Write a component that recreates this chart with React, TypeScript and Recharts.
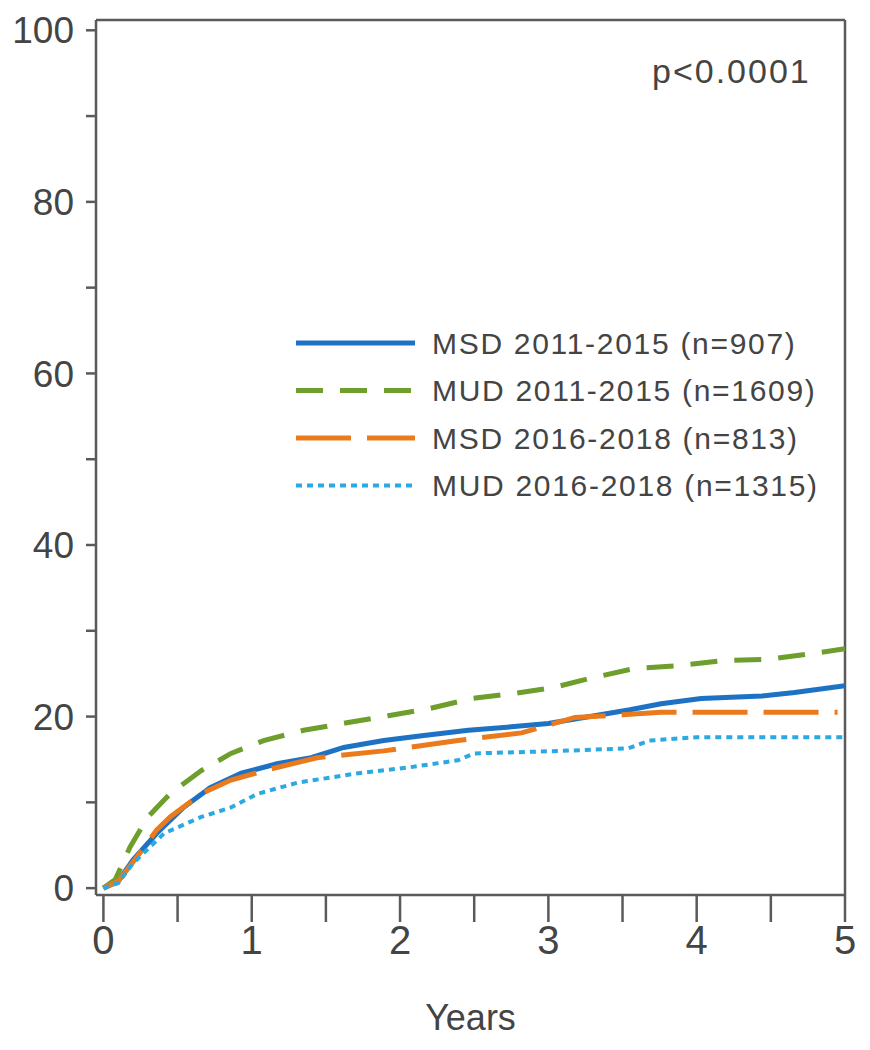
import React from "react";
import { LineChart, Line, XAxis, YAxis, ReferenceLine } from "recharts";

// cumulative incidence (%), by years after transplant
const msd1115Years = [0, 0.1, 0.2, 0.36, 0.54, 0.72, 0.93, 1.17, 1.4, 1.62, 1.89, 2.16, 2.46, 2.75, 3.0, 3.31, 3.55, 3.76, 4.03, 4.44, 4.66, 5.0];
const msd1115Values = [0, 0.8, 3.3, 6.4, 9.4, 11.7, 13.4, 14.5, 15.2, 16.4, 17.2, 17.8, 18.4, 18.8, 19.2, 20.1, 20.8, 21.5, 22.1, 22.4, 22.8, 23.6];

const mud1115Years = [0, 0.08, 0.18, 0.3, 0.45, 0.66, 0.86, 1.08, 1.35, 1.65, 1.92, 2.19, 2.48, 2.77, 3.04, 3.29, 3.58, 3.85, 4.17, 4.49, 4.76, 5.0];
const mud1115Values = [0, 1.0, 4.8, 8.3, 11, 13.7, 15.7, 17.2, 18.4, 19.3, 20.1, 20.9, 22.1, 22.7, 23.4, 24.5, 25.6, 25.9, 26.5, 26.7, 27.3, 27.9];

const msd1618Years = [0, 0.1, 0.22, 0.36, 0.45, 0.66, 0.86, 1.13, 1.44, 1.89, 2.39, 2.48, 2.82, 3.18, 3.5, 3.76, 4.2, 4.95];
const msd1618Values = [0, 0.8, 3.5, 6.8, 8.3, 11, 12.6, 13.9, 15.2, 16.0, 17.2, 17.4, 18.1, 19.9, 20.2, 20.5, 20.5, 20.5];

const mud1618Years = [0, 0.1, 0.2, 0.41, 0.66, 0.86, 1.04, 1.31, 1.72, 2.07, 2.39, 2.5, 3.09, 3.54, 3.68, 4.0, 5.0];
const mud1618Values = [0, 0.6, 2.9, 6.4, 8.3, 9.4, 11, 12.3, 13.4, 14.1, 14.9, 15.7, 16.0, 16.3, 17.2, 17.6, 17.6];

const xTicks = [0, 0.5, 1, 1.5, 2, 2.5, 3, 3.5, 4, 4.5, 5];
const yTicks = [0, 10, 20, 30, 40, 50, 60, 70, 80, 90, 100];

const toRows = (years: number[], values: number[]) =>
  years.map((t, i) => ({ t, v: values[i] }));

const series = [
  { name: "MSD 2011-2015 (n=907)", data: toRows(msd1115Years, msd1115Values), color: "#1d72c4", dash: undefined, width: 5 },
  { name: "MUD 2011-2015 (n=1609)", data: toRows(mud1115Years, mud1115Values), color: "#6e9e2c", dash: "27 17", width: 5 },
  { name: "MSD 2016-2018 (n=813)", data: toRows(msd1618Years, msd1618Values), color: "#ea7a1c", dash: "55 16", width: 5 },
  { name: "MUD 2016-2018 (n=1315)", data: toRows(mud1618Years, mud1618Values), color: "#2aa9e2", dash: "6 5", width: 4 },
];

const axisColor = "#5a5a5a";
const textColor = "#444";

// legend drawn over the plot, same place as in the figure
const LegendBox = () => (
  <svg width={570} height={200} style={{ position: "absolute", left: 280, top: 310 }}>
    {series.map((s, i) => {
      const y = 25 + i * 47.5;
      return (
        <g key={s.name}>
          <line
            x1={8}
            x2={127}
            y1={y}
            y2={y}
            stroke={s.color}
            strokeWidth={s.width}
            strokeDasharray={s.dash}
          />
          <text
            x={144}
            y={y}
            dy="0.36em"
            fontSize={30}
            letterSpacing={1.7}
            fill={textColor}
          >
            {s.name}
          </text>
        </g>
      );
    })}
  </svg>
);

export default function App() {
  return (
    <div
      style={{
        position: "relative",
        width: 862,
        height: 1034,
        fontFamily: "'Liberation Sans', Arial, sans-serif",
      }}
    >
      <LineChart
        width={862}
        height={1034}
        margin={{ top: 12, right: 25, left: 0, bottom: 0 }}
      >
        <XAxis
          type="number"
          dataKey="t"
          domain={[-0.05, 5]}
          ticks={xTicks}
          allowDataOverflow
          height={147}
          tickSize={27}
          tickMargin={4}
          stroke={axisColor}
          strokeWidth={2.5}
          tick={{ fontSize: 40, fill: textColor }}
          tickFormatter={(v: number) => (Number.isInteger(v) ? String(v) : "")}
          label={{ value: "Years", position: "insideBottom", offset: 12, fontSize: 36, fill: textColor }}
        />
        <YAxis
          type="number"
          domain={[-0.8, 101.2]}
          ticks={yTicks}
          allowDataOverflow
          width={88}
          tickSize={10}
          tickMargin={12}
          stroke={axisColor}
          strokeWidth={2.5}
          tick={{ fontSize: 37, fill: textColor }}
          tickFormatter={(v: number) => (v % 20 === 0 ? String(v) : "")}
        />
        <ReferenceLine y={101.2} stroke={axisColor} strokeWidth={2.5} />
        <ReferenceLine x={5} stroke={axisColor} strokeWidth={2.5} />
        {series.map((s) => (
          <Line
            key={s.name}
            data={s.data}
            dataKey="v"
            name={s.name}
            type="linear"
            stroke={s.color}
            strokeWidth={s.width}
            strokeDasharray={s.dash}
            dot={false}
            isAnimationActive={false}
          />
        ))}
      </LineChart>
      <LegendBox />
      <div
        style={{
          position: "absolute",
          left: 644,
          top: 44,
          fontSize: 34,
          letterSpacing: 2,
          color: textColor,
        }}
      >
        p&lt;0.0001
      </div>
    </div>
  );
}
